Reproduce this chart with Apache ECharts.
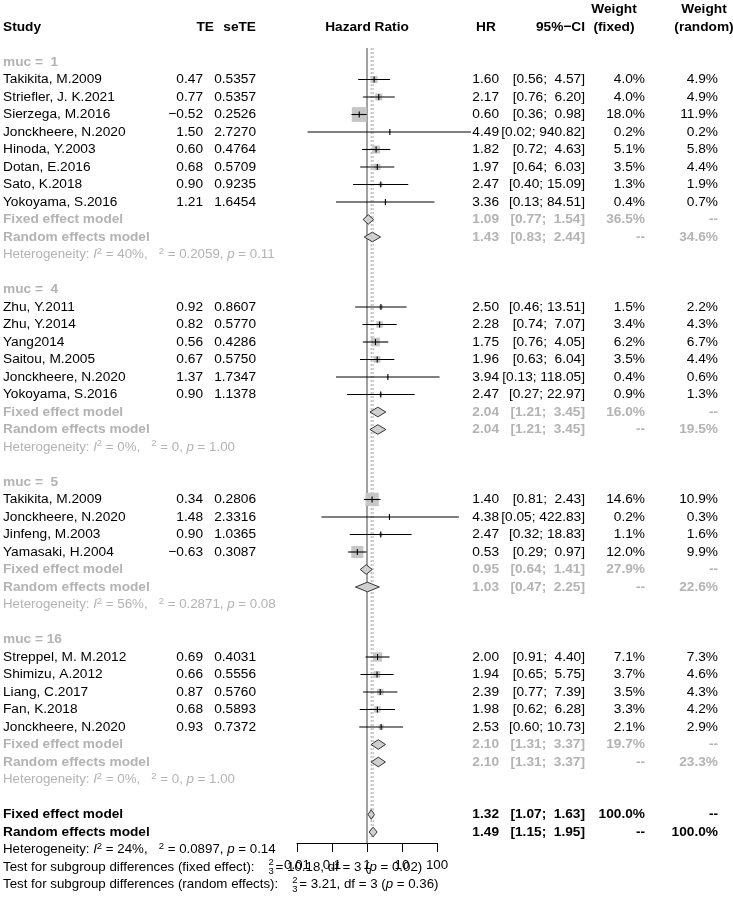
<!DOCTYPE html>
<html><head><meta charset="utf-8">
<script src="https://cdn.jsdelivr.net/npm/echarts@6/dist/echarts.min.js"></script>
<style>html,body{margin:0;padding:0;background:#fff}#c{width:733px;height:899px}</style>
</head><body><div id="c"></div>
<script>
// ---------------- data ----------------
const studies = ['Takikita, M.2009','Striefler, J. K.2021','Sierzega, M.2016','Jonckheere, N.2020','Hinoda, Y.2003','Dotan, E.2016','Sato, K.2018','Yokoyama, S.2016',
  'Zhu, Y.2011','Zhu, Y.2014','Yang2014','Saitou, M.2005','Jonckheere, N.2020','Yokoyama, S.2016',
  'Takikita, M.2009','Jonckheere, N.2020','Jinfeng, M.2003','Yamasaki, H.2004',
  'Streppel, M. M.2012','Shimizu, A.2012','Liang, C.2017','Fan, K.2018','Jonckheere, N.2020'];
const studyGroup = [0,0,0,0,0,0,0,0, 1,1,1,1,1,1, 2,2,2,2, 3,3,3,3,3];
const TE = [0.47,0.77,-0.52,1.50,0.60,0.68,0.90,1.21, 0.92,0.82,0.56,0.67,1.37,0.90, 0.34,1.48,0.90,-0.63, 0.69,0.66,0.87,0.68,0.93];
const seTE = [0.5357,0.5357,0.2526,2.7270,0.4764,0.5709,0.9235,1.6454, 0.8607,0.5770,0.4286,0.5750,1.7347,1.1378, 0.2806,2.3316,1.0365,0.3087, 0.4031,0.5556,0.5760,0.5893,0.7372];
const HR = [1.60,2.17,0.60,4.49,1.82,1.97,2.47,3.36, 2.50,2.28,1.75,1.96,3.94,2.47, 1.40,4.38,2.47,0.53, 2.00,1.94,2.39,1.98,2.53];
const lower = [0.56,0.76,0.36,0.02,0.72,0.64,0.40,0.13, 0.46,0.74,0.76,0.63,0.13,0.27, 0.81,0.05,0.32,0.29, 0.91,0.65,0.77,0.62,0.60];
const upper = [4.57,6.20,0.98,940.82,4.63,6.03,15.09,84.51, 13.51,7.07,4.05,6.04,118.05,22.97, 2.43,422.83,18.83,0.97, 4.40,5.75,7.39,6.28,10.73];
const wFixed = [4.0,4.0,18.0,0.2,5.1,3.5,1.3,0.4, 1.5,3.4,6.2,3.5,0.4,0.9, 14.6,0.2,1.1,12.0, 7.1,3.7,3.5,3.3,2.1];
const wRandom = [4.9,4.9,11.9,0.2,5.8,4.4,1.9,0.7, 2.2,4.3,6.7,4.4,0.6,1.3, 10.9,0.3,1.6,9.9, 7.3,4.6,4.3,4.2,2.9];

const groupLabels = ['muc =  1','muc =  4','muc =  5','muc = 16'];
const subFixedHR = [1.09, 2.04, 0.95, 2.10];
const subFixedLo = [0.77, 1.21, 0.64, 1.31];
const subFixedUp = [1.54, 3.45, 1.41, 3.37];
const subFixedW = [36.5, 16.0, 27.9, 19.7];
const subRandomHR = [1.43, 2.04, 1.03, 2.10];
const subRandomLo = [0.83, 1.21, 0.47, 1.31];
const subRandomUp = [2.44, 3.45, 2.25, 3.37];
const subRandomW = [34.6, 19.5, 22.6, 23.3];
const subI2 = ['40%','0%','56%','0%'];
const subTau2 = ['0.2059','0','0.2871','0'];
const subP = ['0.11','1.00','0.08','1.00'];

const overallLabels = ['Fixed effect model','Random effects model'];
const overallHR = [1.32, 1.49];
const overallLo = [1.07, 1.15];
const overallUp = [1.63, 1.95];
const overallWF = ['100.0%','--'];
const overallWR = ['--','100.0%'];
const overallHet = ['24%','0.0897','0.14'];
const testLabels = ['Test for subgroup differences (fixed effect):','Test for subgroup differences (random effects):'];
const testStat = ['10.18','3.21'];
const testDf = ['3','3'];
const testP = ['0.02','0.36'];
const tickLabels = ['0.01','0.1','1','10','100'];

// ---------------- layout ----------------
const FAM = '"Liberation Sans", Arial, Helvetica, sans-serif';
const FS = 13.7;    // table text
const FSCI = 13.7;  // CI column
const FSH = 13.3;   // heterogeneity / test lines
const GRAY = '#b3b3b3';
const fnt = (bold, italic, size) => (italic ? 'italic ' : '') + (bold ? 'bold ' : '') + (size || FS) + 'px ' + FAM;
const COL = {study:3, te:203, se:256, hr:499, ci:585, wf:645, wr:718};
const SQ = 3.5;
const ctx = document.createElement('canvas').getContext('2d');
const measure = (s, f) => { ctx.font = f; return ctx.measureText(s).width; };

const fmt2 = v => v.toFixed(2).replace('-', '\u2212');
const ci = (lo, up) => '[' + lo.toFixed(2) + '; ' + up.toFixed(2).padStart(5, ' ') + ']';

// row assignment
const studyRow = [];
const groupRow = [], subFixedRow = [], subRandomRow = [], subHetRow = [];
let r = 0;
for (let g = 0; g < groupLabels.length; g++) {
  groupRow[g] = r;
  let n = 0;
  studies.forEach((s, i) => { if (studyGroup[i] === g) { n++; studyRow[i] = r + n; } });
  subFixedRow[g] = r + n + 1; subRandomRow[g] = r + n + 2; subHetRow[g] = r + n + 3;
  r = r + n + 5;
}
const overallRow = [r, r + 1];
const overallHetRow = r + 2;
const testRow = [r + 3, r + 4];

// text table
const texts = [];
function add(row, x, align, text, o) {
  o = o || {};
  texts.push({row, x, align, text, font: o.font || fnt(o.bold, o.italic, o.size), color: o.color || '#000', rich: o.rich, dy: o.dy || 0});
}
const B = {bold: true};
add(-2, COL.study, 'left', 'Study', B);
add(-2, 214, 'right', 'TE', B);
add(-2, COL.se, 'right', 'seTE', B);
add(-2, 367, 'center', 'Hazard Ratio', B);
add(-2, 486, 'center', 'HR', B);
add(-2, COL.ci, 'right', '95%\u2212CI', B);
add(-3, 614, 'center', 'Weight', B);
add(-2, 614, 'center', '(fixed)', B);
add(-3, 704, 'center', 'Weight', B);
add(-2, 704, 'center', '(random)', B);

studies.forEach((s, i) => {
  const row = studyRow[i];
  add(row, COL.study, 'left', s);
  add(row, COL.te, 'right', fmt2(TE[i]));
  add(row, COL.se, 'right', seTE[i].toFixed(4));
  add(row, COL.hr, 'right', HR[i].toFixed(2));
  add(row, COL.ci, 'right', ci(lower[i], upper[i]), {size: FSCI});
  add(row, COL.wf, 'right', wFixed[i].toFixed(1) + '%');
  add(row, COL.wr, 'right', wRandom[i].toFixed(1) + '%');
});

function hetRich(color) {
  return {
    it: {font: fnt(false, true, FSH), fill: color, lineHeight: 17},
    sup: {font: fnt(false, false, 9.5), fill: color, verticalAlign: 'top', lineHeight: 9}
  };
}
groupLabels.forEach((lab, g) => {
  const G = {bold: true, color: GRAY};
  const GC = {bold: true, color: GRAY, size: FSCI};
  add(groupRow[g], COL.study, 'left', lab, G);
  add(subFixedRow[g], COL.study, 'left', 'Fixed effect model', G);
  add(subFixedRow[g], COL.hr, 'right', subFixedHR[g].toFixed(2), G);
  add(subFixedRow[g], COL.ci, 'right', ci(subFixedLo[g], subFixedUp[g]), GC);
  add(subFixedRow[g], COL.wf, 'right', subFixedW[g].toFixed(1) + '%', G);
  add(subFixedRow[g], COL.wr, 'right', '--', G);
  add(subRandomRow[g], COL.study, 'left', 'Random effects model', G);
  add(subRandomRow[g], COL.hr, 'right', subRandomHR[g].toFixed(2), G);
  add(subRandomRow[g], COL.ci, 'right', ci(subRandomLo[g], subRandomUp[g]), GC);
  add(subRandomRow[g], COL.wf, 'right', '--', G);
  add(subRandomRow[g], COL.wr, 'right', subRandomW[g].toFixed(1) + '%', G);
  add(subHetRow[g], COL.study, 'left',
    'Heterogeneity: {it|I}{sup|2} = ' + subI2[g] + ',   {sup|2} = ' + subTau2[g] + ', {it|p} = ' + subP[g],
    {color: GRAY, size: FSH, rich: hetRich(GRAY)});
});

[0, 1].forEach(k => {
  add(overallRow[k], COL.study, 'left', overallLabels[k], B);
  add(overallRow[k], COL.hr, 'right', overallHR[k].toFixed(2), B);
  add(overallRow[k], COL.ci, 'right', ci(overallLo[k], overallUp[k]), {bold: true, size: FSCI});
  add(overallRow[k], COL.wf, 'right', overallWF[k], B);
  add(overallRow[k], COL.wr, 'right', overallWR[k], B);
});
add(overallHetRow, COL.study, 'left',
  'Heterogeneity: {it|I}{sup|2} = ' + overallHet[0] + ',   {sup|2} = ' + overallHet[1] + ', {it|p} = ' + overallHet[2],
  {size: FSH, rich: hetRich('#000')});
[0, 1].forEach(k => {
  const w = measure(testLabels[k], fnt(false, false, FSH));
  const sx = COL.study + w + 14;
  add(testRow[k], COL.study, 'left', testLabels[k], {size: FSH});
  add(testRow[k], sx, 'left', '2', {size: 9.5, dy: -4.5});
  add(testRow[k], sx, 'left', '3', {size: 9.5, dy: 4.5});
  add(testRow[k], sx + 7, 'left', '= ' + testStat[k] + ', df = ' + testDf[k] + ' ({it|p} = ' + testP[k] + ')',
    {size: FSH, rich: {it: {font: fnt(false, true, FSH), fill: '#000', lineHeight: 17}}});
});

// ---------------- chart ----------------
const L = v => Math.log10(v);
const chart = echarts.init(document.getElementById('c'), null, {renderer: 'canvas'});
const ROW0 = 0, ROWMAX = overallRow[1];

chart.setOption({
  animation: false,
  backgroundColor: '#fff',
  grid: {left: 297, width: 140, top: 62, height: 770, containLabel: false, outerBoundsMode: 'none'},
  xAxis: {
    type: 'value', min: -2, max: 2, interval: 1, position: 'bottom', offset: 11,
    axisLine: {show: true, onZero: false, lineStyle: {color: '#000', width: 1}},
    axisTick: {show: true, length: 9, inside: false, lineStyle: {color: '#000', width: 1}},
    axisLabel: {show: true, margin: 16, color: '#000', fontSize: FSH, fontFamily: FAM,
      formatter: v => tickLabels[Math.round(v) + 2]},
    splitLine: {show: false}
  },
  yAxis: {type: 'value', min: ROW0, max: ROWMAX, inverse: true, show: false,
    axisLine: {show: false}, splitLine: {show: false}},
  series: [
    { // reference lines
      type: 'custom', silent: true, z: 1,
      data: [[L(1), -0.8, 44.63, 0], [L(overallHR[0]), -0.8, 44.3, 1], [L(overallHR[1]), -0.8, 44.3, 1]],
      renderItem: (p, api) => {
        const a = api.coord([api.value(0), api.value(1)]);
        const b = api.coord([api.value(0), api.value(2)]);
        const dotted = api.value(3) === 1;
        return {type: 'line', shape: {x1: a[0], y1: a[1], x2: b[0], y2: b[1]},
          style: dotted ? {stroke: '#a8a8a8', lineWidth: 1, lineDash: [2, 2]} : {stroke: '#8a8a8a', lineWidth: 1.6}};
      }
    },
    { // study squares and CIs
      type: 'custom', silent: true, z: 2,
      data: HR.map((h, i) => [L(h), studyRow[i], L(lower[i]), L(upper[i]), wFixed[i]]),
      renderItem: (p, api) => {
        const row = api.value(1);
        const c = api.coord([api.value(0), row]);
        const l = api.coord([api.value(2), row]);
        const u = api.coord([api.value(3), row]);
        const s = SQ * Math.sqrt(api.value(4));
        return {type: 'group', children: [
          {type: 'rect', shape: {x: c[0] - s / 2, y: c[1] - s / 2, width: s, height: s}, style: {fill: '#c6c6c6'}},
          {type: 'line', shape: {x1: l[0], y1: c[1], x2: u[0], y2: c[1]}, style: {stroke: '#000', lineWidth: 1.1}},
          {type: 'line', shape: {x1: c[0], y1: c[1] - 3, x2: c[0], y2: c[1] + 3}, style: {stroke: '#000', lineWidth: 1.1}}
        ]};
      }
    },
    { // diamonds
      type: 'custom', silent: true, z: 3,
      data: [].concat(
        subFixedHR.map((h, g) => [L(h), subFixedRow[g], L(subFixedLo[g]), L(subFixedUp[g])]),
        subRandomHR.map((h, g) => [L(h), subRandomRow[g], L(subRandomLo[g]), L(subRandomUp[g])]),
        overallHR.map((h, k) => [L(h), overallRow[k], L(overallLo[k]), L(overallUp[k])])
      ),
      renderItem: (p, api) => {
        const row = api.value(1);
        const c = api.coord([api.value(0), row]);
        const l = api.coord([api.value(2), row]);
        const u = api.coord([api.value(3), row]);
        const h = 4.8;
        return {type: 'polygon', shape: {points: [[l[0], c[1]], [c[0], c[1] - h], [u[0], c[1]], [c[0], c[1] + h]]},
          style: {fill: '#d0d0d0', stroke: '#333', lineWidth: 1}};
      }
    },
    { // texts
      type: 'custom', silent: true, z: 4,
      data: texts.map(t => [0, t.row]),
      renderItem: (p, api) => {
        const t = texts[p.dataIndex];
        const y = api.coord([0, api.value(1)])[1] + t.dy;
        const st = {text: t.text, x: t.x, y: y, fill: t.color, font: t.font,
          align: t.align, textAlign: t.align, verticalAlign: 'middle', textVerticalAlign: 'middle'};
        if (t.rich) { st.rich = t.rich; st.lineHeight = 17; }
        return {type: 'text', style: st};
      }
    }
  ]
});
</script>
</body></html>
